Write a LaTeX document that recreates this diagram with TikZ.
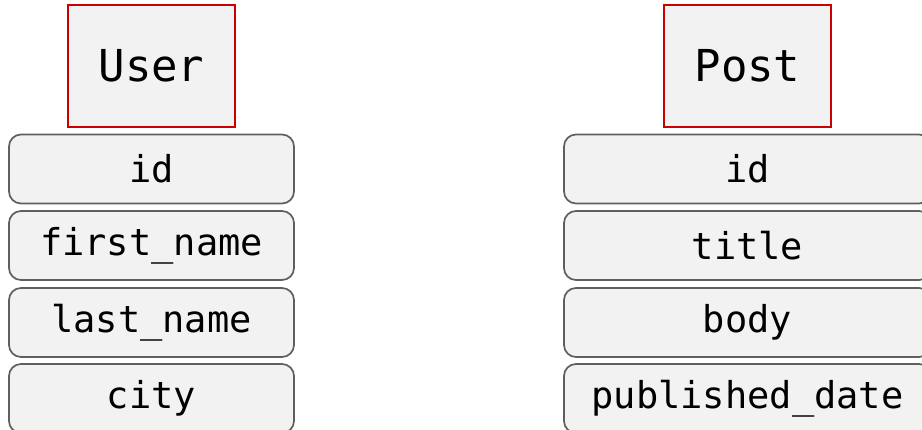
\documentclass[tikz,border=0pt]{standalone}
\usepackage{fontspec}
\setmonofont{DejaVu Sans Mono}
\definecolor{boxfill}{HTML}{F2F2F2}
\definecolor{fieldline}{HTML}{5F5F5F}
\definecolor{entline}{HTML}{CC0000}
\begin{document}
\begin{tikzpicture}[x=1pt,y=-1pt,
  entity/.style={draw=entline, fill=boxfill, line width=1.6pt, minimum width=167pt, minimum height=122pt, inner sep=0pt, font=\ttfamily\fontsize{44}{50}\selectfont},
  field/.style={draw=fieldline, fill=boxfill, rounded corners=12pt, line width=1.7pt, minimum height=69pt, inner sep=0pt, font=\ttfamily\fontsize{37}{44}\selectfont},
  lfield/.style={field, minimum width=285pt},
  rfield/.style={field, minimum width=367pt}]
\useasboundingbox (0,0) rectangle (922,430);
\node[entity] (user) at (151.5,66) {User};
\node[lfield] (uid) at (151.5,169) {id};
\node[lfield] (ufirst) at (151.5,245.5) {first\_name};
\node[lfield] (ulast) at (151.5,322.5) {last\_name};
\node[lfield] (ucity) at (151.5,398.5) {city};
\node[entity] (post) at (747.5,66) {Post};
\node[rfield] (pid) at (747.5,169) {id};
\node[rfield] (ptitle) at (747.5,245.5) {title};
\node[rfield] (pbody) at (747.5,322.5) {body};
\node[rfield] (pdate) at (747.5,398.5) {published\_date};
\end{tikzpicture}
\end{document}
